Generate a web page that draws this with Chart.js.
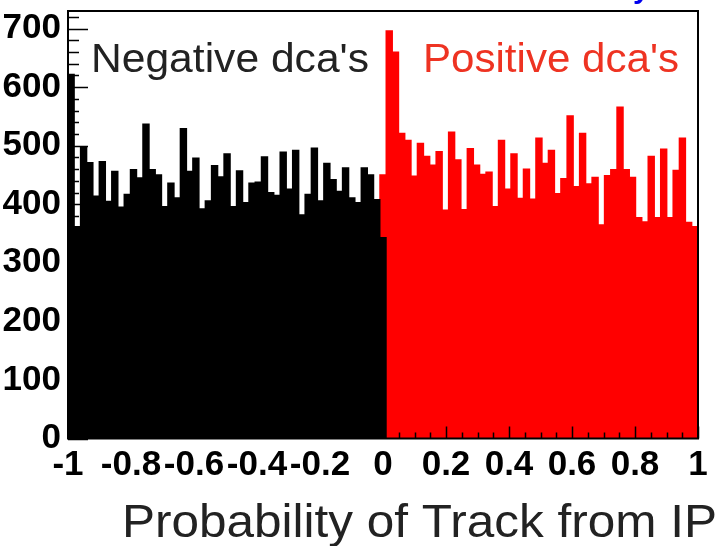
<!DOCTYPE html>
<html>
<head>
<meta charset="utf-8">
<script src="https://cdn.jsdelivr.net/npm/chart.js@4"></script>
<style>
  html, body { margin: 0; padding: 0; background: #fff; }
  #wrap { width: 719px; height: 546px; }
</style>
</head>
<body>
<div id="wrap"><canvas id="dcaChart" width="719" height="546"></canvas></div>
<script>
// 101 bins from -1 to 1; the middle bin (centred on 0) holds both signs
const binMin = -1, binMax = 1, nBins = 101;

// negative dca's, bins 0..50
const negCounts = [622, 362, 497, 471, 414, 473, 405, 456, 395, 417,
                   459, 445, 537, 459, 450, 396, 436, 411, 529, 456,
                   479, 392, 406, 466, 447, 486, 396, 457, 403, 436,
                   438, 481, 420, 415, 489, 426, 492, 382, 417, 496,
                   406, 470, 442, 422, 462, 411, 403, 462, 450, 408,
                   343];
// positive dca's, bins 50..100
const posCounts = [450, 696, 660, 521, 509, 448, 504, 482, 467, 490,
                   390, 523, 476, 391, 495, 467, 451, 455, 396, 509,
                   426, 486, 410, 460, 409, 513, 470, 492, 418, 444,
                   551, 430, 521, 435, 446, 365, 449, 459, 566, 459,
                   446, 377, 370, 482, 377, 494, 377, 458, 513, 369,
                   362];

const xTicks = [-1, -0.8, -0.6, -0.4, -0.2, 0, 0.2, 0.4, 0.6, 0.8, 1];
const yTicks = [0, 100, 200, 300, 400, 500, 600, 700];

const binCenter = i => binMin + (i + 0.5) * (binMax - binMin) / nBins;

const tickFont = { family: 'Liberation Sans', weight: 'bold', size: 35 };

function drawStretched(ctx, txt, x, base, font, color, width) {
    ctx.font = font;
    const w = ctx.measureText(txt).width;
    ctx.save();
    ctx.translate(x, base);
    ctx.scale(width / w, 1);
    ctx.fillStyle = color;
    ctx.textBaseline = 'alphabetic';
    ctx.textAlign = 'left';
    ctx.fillText(txt, 0, 0);
    ctx.restore();
}

// ROOT style frame with inward ticks, plus the text labels
const rootFrame = {
    id: 'rootFrame',
    afterDatasetsDraw(chart) {
        const { ctx, chartArea: a, scales: { x, y } } = chart;
        ctx.save();
        ctx.strokeStyle = '#000';
        ctx.lineWidth = 1.5;
        ctx.beginPath();
        for (let v = -1; v <= 1.0001; v += 0.05) {
            const px = Math.round(x.getPixelForValue(v)) + 0.5;
            const major = Math.abs(v * 5 - Math.round(v * 5)) < 0.001;
            ctx.moveTo(px, a.bottom);
            ctx.lineTo(px, a.bottom - (major ? 12 : 6));
        }
        for (let v = 0; v <= 720; v += 20) {
            const py = Math.round(y.getPixelForValue(v)) + 0.5;
            ctx.moveTo(a.left, py);
            ctx.lineTo(a.left + (v % 100 === 0 ? 20 : 11), py);
        }
        ctx.stroke();
        ctx.lineWidth = 2;
        ctx.strokeRect(a.left, a.top, a.right - a.left, a.bottom - a.top);
        ctx.restore();
    },
    afterDraw(chart) {
        const ctx = chart.ctx;
        drawStretched(ctx, "Negative dca's", 91, 72, '40px "Liberation Sans"', '#222', 278);
        drawStretched(ctx, "Positive dca's", 423, 72, '40px "Liberation Sans"', '#ee3322', 256);
        drawStretched(ctx, 'Probability of Track from IP', 122, 537, '47px "Liberation Sans"', '#222', 595);
        // cropped-off title above the frame, only a descender shows
        ctx.save();
        ctx.font = 'bold 30px "Liberation Sans"';
        ctx.fillStyle = '#0000ee';
        ctx.textBaseline = 'alphabetic';
        ctx.fillText('y', 633, -2);
        ctx.restore();
    }
};

new Chart(document.getElementById('dcaChart'), {
    type: 'bar',
    data: {
        datasets: [{
            label: 'negative',
            data: negCounts.map((c, i) => ({ x: binCenter(i), y: c })),
            backgroundColor: '#000',
            grouped: false,
            barPercentage: 1,
            categoryPercentage: 1,
            borderWidth: 0,
            inflateAmount: 0.6
        }, {
            label: 'positive',
            data: posCounts.map((c, i) => ({ x: binCenter(i + 50), y: c })),
            backgroundColor: '#ff0000',
            grouped: false,
            barPercentage: 1,
            categoryPercentage: 1,
            borderWidth: 0,
            inflateAmount: 0.6
        }]
    },
    options: {
        responsive: false,
        animation: false,
        layout: { padding: { top: 11, right: 21, left: 0, bottom: 0 } },
        plugins: { legend: { display: false }, tooltip: { enabled: false } },
        scales: {
            x: {
                type: 'linear',
                min: -1,
                max: 1,
                offset: false,
                grid: { display: false, drawTicks: false },
                border: { display: false },
                afterBuildTicks: s => { s.ticks = xTicks.map(v => ({ value: v })); },
                afterFit: s => { s.height = 107.5; s.paddingLeft = 0; s.paddingRight = 0; },
                ticks: {
                    color: '#000',
                    font: tickFont,
                    padding: 6,
                    maxRotation: 0,
                    autoSkip: false,
                    callback: v => String(+v.toFixed(1))
                }
            },
            y: {
                min: 0,
                max: 730,
                grid: { display: false, drawTicks: false },
                border: { display: false },
                afterBuildTicks: s => { s.ticks = yTicks.map(v => ({ value: v })); },
                afterFit: s => { s.width = 68; s.paddingTop = 0; s.paddingBottom = 0; },
                ticks: { color: '#000', font: tickFont, padding: 7 }
            }
        }
    },
    plugins: [rootFrame]
});
</script>
</body>
</html>
